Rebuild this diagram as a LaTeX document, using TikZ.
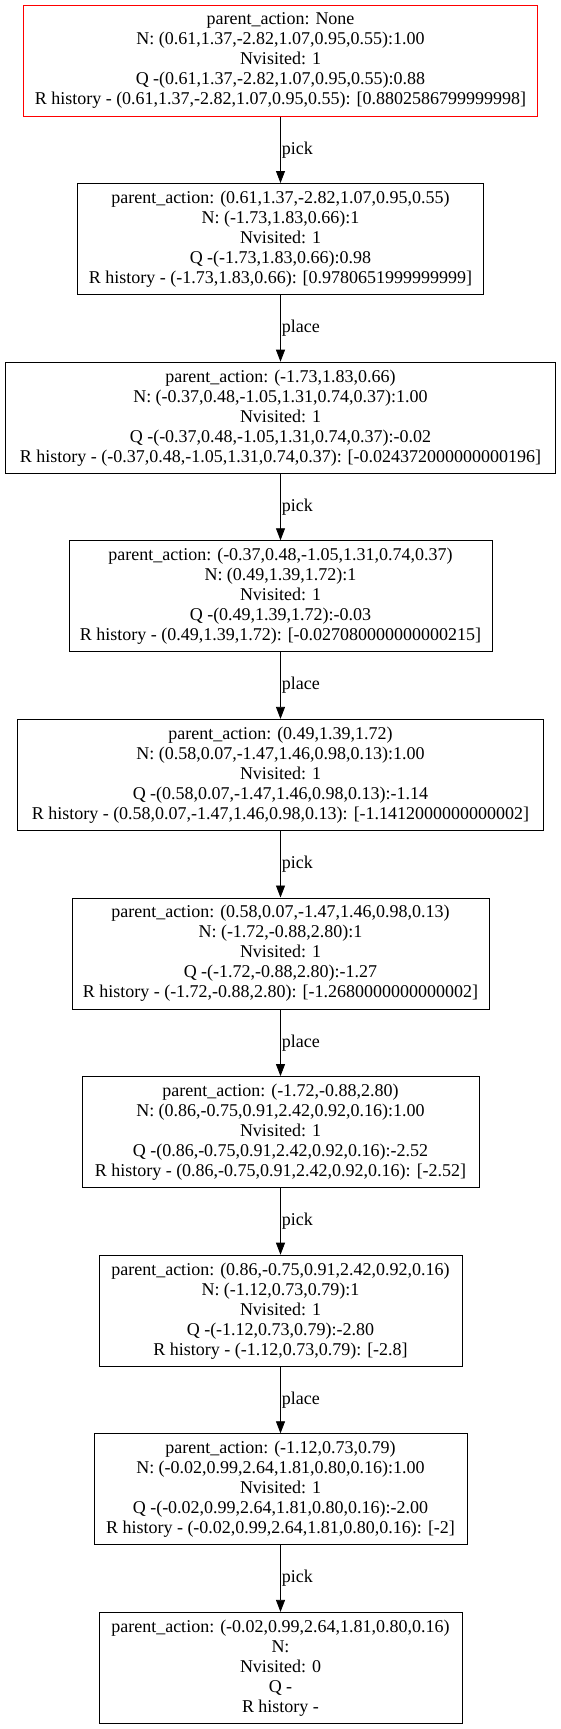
\documentclass[tikz,border=0pt]{standalone}
\usepackage{fontspec}
\setmainfont{Liberation Serif}
\usetikzlibrary{arrows.meta}

\begin{document}
\begin{tikzpicture}[x=1pt,y=1pt,
		statebox/.style={draw,line width=1pt,rectangle,align=center,minimum height=111pt,inner sep=2pt,font=\fontsize{18}{20}\selectfont},
		rootbox/.style={statebox,draw=red},
		actlabel/.style={midway,right,inner sep=1pt,font=\fontsize{18}{20}\selectfont},
		edge/.style={line width=0.8pt,-{Triangle[length=12pt,width=9pt]}}]
		\useasboundingbox (0,0) rectangle (561,-1729);
		
		\node[rootbox,minimum width=514pt] (A) at (280.5,-60.5) {parent\_action: None\\N: (0.61,1.37,-2.82,1.07,0.95,0.55):1.00\\Nvisited: 1\\Q -(0.61,1.37,-2.82,1.07,0.95,0.55):0.88\\R history - (0.61,1.37,-2.82,1.07,0.95,0.55): [0.8802586799999998]};
		
		\node[statebox,minimum width=406pt] (B) at (280.5,-239) {parent\_action: (0.61,1.37,-2.82,1.07,0.95,0.55)\\N: (-1.73,1.83,0.66):1\\Nvisited: 1\\Q -(-1.73,1.83,0.66):0.98\\R history - (-1.73,1.83,0.66): [0.9780651999999999]};
		
		\node[statebox,minimum width=550pt] (C) at (280.5,-417.7) {parent\_action: (-1.73,1.83,0.66)\\N: (-0.37,0.48,-1.05,1.31,0.74,0.37):1.00\\Nvisited: 1\\Q -(-0.37,0.48,-1.05,1.31,0.74,0.37):-0.02\\R history - (-0.37,0.48,-1.05,1.31,0.74,0.37): [-0.024372000000000196]};
		
		\node[statebox,minimum width=423pt] (D) at (280.5,-596.3) {parent\_action: (-0.37,0.48,-1.05,1.31,0.74,0.37)\\N: (0.49,1.39,1.72):1\\Nvisited: 1\\Q -(0.49,1.39,1.72):-0.03\\R history - (0.49,1.39,1.72): [-0.027080000000000215]};
		
		\node[statebox,minimum width=526pt] (E) at (280.5,-774.9) {parent\_action: (0.49,1.39,1.72)\\N: (0.58,0.07,-1.47,1.46,0.98,0.13):1.00\\Nvisited: 1\\Q -(0.58,0.07,-1.47,1.46,0.98,0.13):-1.14\\R history - (0.58,0.07,-1.47,1.46,0.98,0.13): [-1.1412000000000002]};
		
		\node[statebox,minimum width=417pt] (F) at (280.5,-953.5) {parent\_action: (0.58,0.07,-1.47,1.46,0.98,0.13)\\N: (-1.72,-0.88,2.80):1\\Nvisited: 1\\Q -(-1.72,-0.88,2.80):-1.27\\R history - (-1.72,-0.88,2.80): [-1.2680000000000002]};
		
		\node[statebox,minimum width=397pt] (G) at (280.5,-1132.1) {parent\_action: (-1.72,-0.88,2.80)\\N: (0.86,-0.75,0.91,2.42,0.92,0.16):1.00\\Nvisited: 1\\Q -(0.86,-0.75,0.91,2.42,0.92,0.16):-2.52\\R history - (0.86,-0.75,0.91,2.42,0.92,0.16): [-2.52]};
		
		\node[statebox,minimum width=363pt] (H) at (280.5,-1310.7) {parent\_action: (0.86,-0.75,0.91,2.42,0.92,0.16)\\N: (-1.12,0.73,0.79):1\\Nvisited: 1\\Q -(-1.12,0.73,0.79):-2.80\\R history - (-1.12,0.73,0.79): [-2.8]};
		
		\node[statebox,minimum width=373pt] (I) at (280.5,-1489.3) {parent\_action: (-1.12,0.73,0.79)\\N: (-0.02,0.99,2.64,1.81,0.80,0.16):1.00\\Nvisited: 1\\Q -(-0.02,0.99,2.64,1.81,0.80,0.16):-2.00\\R history - (-0.02,0.99,2.64,1.81,0.80,0.16): [-2]};
		
		\node[statebox,minimum width=363pt] (J) at (280.5,-1667.9) {parent\_action: (-0.02,0.99,2.64,1.81,0.80,0.16)\\N:\\Nvisited: 0\\Q -\\R history -};
		
		\draw[edge] (A) -- node[actlabel]{pick} (B);
		\draw[edge] (B) -- node[actlabel]{place} (C);
		\draw[edge] (C) -- node[actlabel]{pick} (D);
		\draw[edge] (D) -- node[actlabel]{place} (E);
		\draw[edge] (E) -- node[actlabel]{pick} (F);
		\draw[edge] (F) -- node[actlabel]{place} (G);
		\draw[edge] (G) -- node[actlabel]{pick} (H);
		\draw[edge] (H) -- node[actlabel]{place} (I);
		\draw[edge] (I) -- node[actlabel]{pick} (J);
		
	\end{tikzpicture}
\end{document}
